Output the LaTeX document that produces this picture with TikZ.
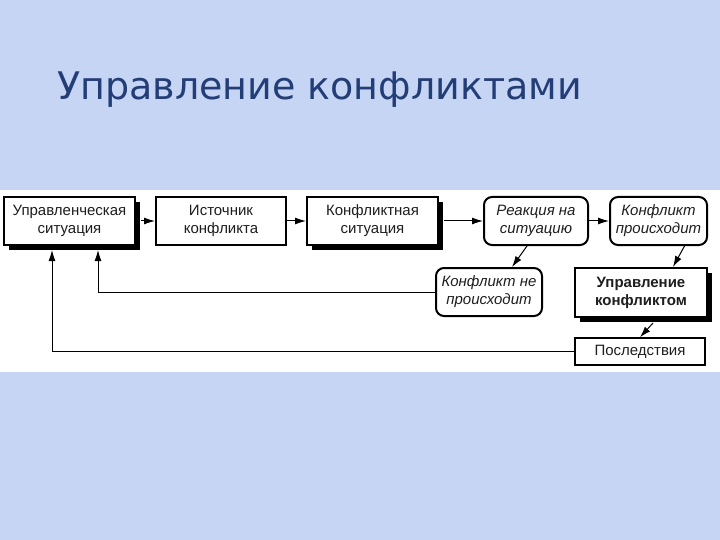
\documentclass[tikz,border=0pt]{standalone}
\usepackage{fontspec}
\setmainfont{Liberation Sans}
\newfontfamily\titlefont{DejaVu Sans}
\usetikzlibrary{arrows.meta,shadows,calc}
\definecolor{bgblue}{RGB}{198,213,244}
\definecolor{titleblue}{RGB}{35,62,118}
\definecolor{txt}{RGB}{30,30,30}
\tikzset{
  box/.style={draw=black, line width=2pt, fill=white, align=center, inner sep=0pt, text=txt,
    font=\fontsize{15}{18}\selectfont},
  shadowbox/.style={box, drop shadow={shadow xshift=5pt, shadow yshift=-5pt, fill=black, opacity=1}},
  roundbox/.style={box, rounded corners=8pt, font=\fontsize{15}{18}\selectfont\itshape},
  arr/.style={draw=black, line width=1pt, -{Latex[length=11pt,width=7pt]}},
}
\begin{document}
\begin{tikzpicture}[x=1pt,y=-1pt]
\useasboundingbox (0,0) rectangle (720,540);
\fill[bgblue] (0,0) rectangle (720,540);
\fill[white] (0,190) rectangle (720,372);
\node[anchor=base west, text=titleblue, font=\titlefont\fontsize{38}{44}\selectfont, inner sep=0pt] (title) at (57,100) {Управление конфликтами};

\node[shadowbox, minimum width=131pt, minimum height=48pt] (b1) at (69.5,221) {Управленческая\\ситуация};
\node[box, minimum width=130pt, minimum height=48pt] (b2) at (221,221) {Источник\\конфликта};
\node[shadowbox, minimum width=131pt, minimum height=48pt] (b3) at (372.5,221) {Конфликтная\\ситуация};
\node[roundbox, minimum width=104pt, minimum height=48pt] (b4) at (536,221) {Реакция на\\ситуацию};
\node[roundbox, minimum width=97pt, minimum height=48pt] (b5) at (658.5,221) {Конфликт\\происходит};
\node[roundbox, minimum width=106pt, minimum height=48pt] (b6) at (489,292) {Конфликт не\\происходит};
\node[shadowbox, minimum width=132pt, minimum height=49pt, font=\fontsize{15}{18}\selectfont\bfseries] (b7) at (641,292.5) {Управление\\конфликтом};
\node[box, line width=1.5pt, minimum width=130pt, minimum height=27pt] (b8) at (640,351.5) {Последствия};

\coordinate (c1) at (98,250);
\coordinate (c2) at (52,250);

\draw[arr] ([xshift=5pt]b1.east) -- (b2.west);
\draw[arr] (b2.east) -- (b3.west);
\draw[arr] ([xshift=5pt]b3.east) -- (b4.west);
\draw[arr] (b4.east) -- (b5.west);
\draw[arr] ([xshift=-9pt]b4.south) -- ([xshift=23pt]b6.north);
\draw[arr] ([xshift=26pt]b5.south) -- ([xshift=32pt]b7.north);
\draw[arr] ([xshift=12pt,yshift=-5pt]b7.south) -- (b8.north);
\draw[arr] (b6.west) -| (c1);
\draw[arr] (b8.west) -| (c2);
\end{tikzpicture}
\end{document}
